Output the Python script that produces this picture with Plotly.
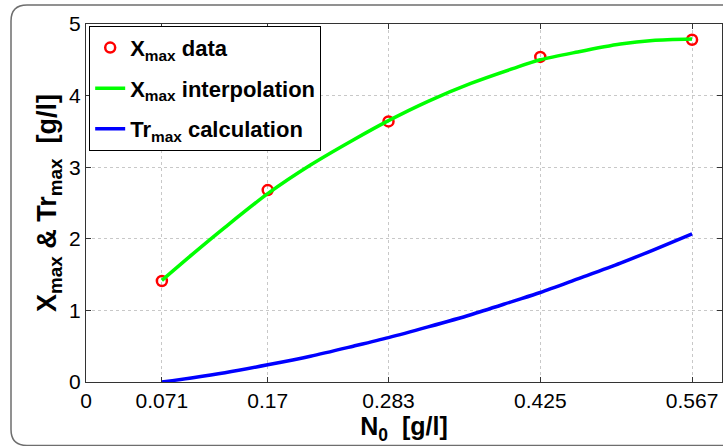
import plotly.graph_objects as go

# ---- data ----
n0_data = [0.071, 0.17, 0.283, 0.425, 0.567]
xmax_data = [1.41, 2.68, 3.64, 4.54, 4.78]

interp_x = [0.071, 0.10, 0.13, 0.17, 0.21, 0.25, 0.283, 0.32, 0.36, 0.40, 0.425, 0.46, 0.50, 0.53, 0.567]
interp_y = [1.42, 1.79, 2.16, 2.63, 3.03, 3.38, 3.65, 3.92, 4.17, 4.38, 4.50, 4.61, 4.72, 4.77, 4.79]

tr_x = [0.071, 0.10, 0.13, 0.17, 0.21, 0.25, 0.283, 0.32, 0.36, 0.40, 0.425, 0.46, 0.50, 0.53, 0.567]
tr_y = [0.00, 0.06, 0.13, 0.24, 0.36, 0.50, 0.62, 0.77, 0.94, 1.13, 1.25, 1.44, 1.66, 1.84, 2.07]

x_tickvals = [0, 0.071, 0.17, 0.283, 0.425, 0.567]
x_ticktext = ["0", "0.071", "0.17", "0.283", "0.425", "0.567"]
y_tickvals = [0, 1, 2, 3, 4, 5]

FONT = "Liberation Sans, Arial, sans-serif"

fig = go.Figure()
fig.add_trace(go.Scatter(
    x=n0_data, y=xmax_data, mode="markers",
    name="<b>X<sub>max</sub> data</b>", legendgroup="a",
    marker=dict(symbol="circle-open", size=10, color="#ff0000",
                line=dict(width=2.5, color="#ff0000")),
))
fig.add_trace(go.Scatter(
    x=interp_x, y=interp_y, mode="lines", line_shape="spline",
    name="<b>X<sub>max</sub> interpolation</b>", legendgroup="b",
    line=dict(color="#00ff00", width=3.5, smoothing=0.8),
))
fig.add_trace(go.Scatter(
    x=tr_x, y=tr_y, mode="lines", line_shape="spline",
    name="<b>Tr<sub>max</sub> calculation</b>", legendgroup="c",
    line=dict(color="#0000ff", width=3.5, smoothing=0.8),
))

W, H = 723, 446
L, R, T, B = 86, 1, 24, 64
pw, ph = W - L - R, H - T - B

def px(x):
    return (x - L) / pw

def py(y):
    return (H - B - y) / ph

# rounded figure frame (only left corners visible)
x0, y0, x1, y1, r = 11, 5, 760, 445.5, 16
path = (f"M {px(x1)},{py(y0)} L {px(x0 + r)},{py(y0)} "
        f"Q {px(x0)},{py(y0)} {px(x0)},{py(y0 + r)} "
        f"L {px(x0)},{py(y1 - r)} "
        f"Q {px(x0)},{py(y1)} {px(x0 + r)},{py(y1)} "
        f"L {px(x1)},{py(y1)}")
fig.add_shape(type="path", path=path, xref="paper", yref="paper",
              line=dict(color="#6e6e6e", width=1.5), layer="below")

fig.update_layout(
    width=W, height=H,
    margin=dict(l=L, r=R, t=T, b=B),
    paper_bgcolor="white", plot_bgcolor="white",
    font=dict(family=FONT, color="black", size=21),
    showlegend=True,
    legend=dict(
        x=0.005, y=0.995, xanchor="left", yanchor="top",
        bgcolor="white", bordercolor="black", borderwidth=1,
        font=dict(family=FONT, size=22, color="black"),
        itemwidth=30, traceorder="grouped", tracegroupgap=9,
    ),
    xaxis=dict(
        range=[0, 0.595],
        tickvals=x_tickvals, ticktext=x_ticktext,
        tickfont=dict(size=21),
        ticks="inside", ticklen=5, tickcolor="#333",
        showline=True, linecolor="#333", linewidth=1.2, mirror="ticks",
        showgrid=True, gridcolor="#c8c8c8", griddash="dot", gridwidth=1,
        zeroline=False,
        title=dict(text="<b>N<sub>0</sub>  [g/l]</b>", font=dict(size=25), standoff=0),
    ),
    yaxis=dict(
        range=[0, 5],
        tickvals=y_tickvals,
        tickfont=dict(size=21),
        ticks="inside", ticklen=5, tickcolor="#333",
        showline=True, linecolor="#333", linewidth=1.2, mirror="ticks",
        showgrid=True, gridcolor="#c8c8c8", griddash="dot", gridwidth=1,
        zeroline=False,
        title=dict(text="<b>X<sub>max</sub> & Tr<sub>max</sub>  [g/l]</b>",
                   font=dict(size=27), standoff=4),
    ),
)

fig.write_html("out.html")
